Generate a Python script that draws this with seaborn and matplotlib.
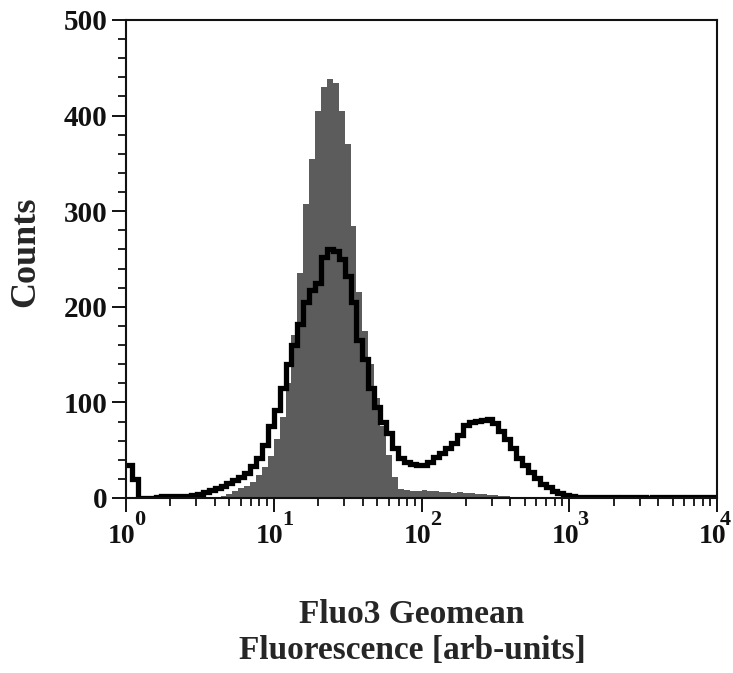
import numpy as np
import pandas as pd
import matplotlib
matplotlib.use("Agg")
import matplotlib.pyplot as plt
from matplotlib.ticker import FixedLocator, NullFormatter
import seaborn as sns

# Histogram channels: 100 log-spaced bins, 0.04 decade wide, from 10^0 to 10^4
bin_lo_log = 0.0
bin_hi_log = 4.0
n_bins = 100
bin_centers = 10 ** (bin_lo_log + (np.arange(n_bins) + 0.5) * (bin_hi_log - bin_lo_log) / n_bins)

# Unstained control (grey filled histogram)
control_counts = [
    0, 0, 0, 0, 0, 0, 0, 0, 0, 0,
    0, 0, 0, 0, 0, 1, 2, 4, 7, 10,
    13, 17, 24, 32, 44, 62, 85, 120, 170, 235,
    308, 355, 405, 430, 438, 434, 405, 370, 285, 215,
    175, 140, 105, 75, 45, 22, 9, 8, 7, 7,
    8, 7, 7, 6, 6, 5, 6, 5, 5, 4,
    4, 3, 3, 2, 2, 1, 1, 1, 1, 1,
    1, 0, 0, 0, 0, 0, 0, 0, 0, 0,
    0, 0, 0, 0, 0, 0, 0, 0, 0, 0,
    0, 0, 0, 0, 0, 0, 0, 0, 0, 0,
]

# Fluo3-loaded cells (black outline histogram)
fluo3_counts = [
    35, 20, 0, 0, 0, 1, 2, 2, 2, 2,
    2, 3, 4, 6, 8, 10, 13, 16, 19, 22,
    26, 33, 42, 55, 75, 92, 115, 140, 160, 182,
    205, 218, 225, 252, 260, 258, 250, 232, 205, 165,
    145, 115, 95, 80, 68, 52, 42, 38, 36, 35,
    35, 38, 43, 47, 52, 58, 66, 76, 80, 81,
    82, 83, 78, 70, 62, 52, 42, 34, 27, 21,
    15, 11, 7, 5, 3, 2, 1, 1, 1, 1,
    1, 1, 1, 0, 1, 1, 1, 1, 0, 1,
    1, 1, 1, 1, 0, 1, 1, 1, 1, 1,
]

decade_ticks = [1, 10, 100, 1000, 10000]
decade_exponents = ["0", "1", "2", "3", "4"]
count_ticks = [0, 100, 200, 300, 400, 500]

df = pd.DataFrame({
    "fluorescence": bin_centers,
    "control": control_counts,
    "fluo3": fluo3_counts,
})

sns.set_style("ticks")
plt.rcParams["font.family"] = ["Liberation Serif", "DejaVu Serif"]
plt.rcParams["font.weight"] = "bold"
plt.rcParams["axes.labelweight"] = "bold"

fig = plt.figure(figsize=(7.33, 6.73), dpi=100)
ax = fig.add_axes([126 / 733, 1 - 498 / 673, (717 - 126) / 733, (498 - 20) / 673])

sns.histplot(data=df, x="fluorescence", weights="control", bins=n_bins,
             binrange=(bin_lo_log, bin_hi_log), log_scale=True, element="step",
             fill=True, color="#5c5c5c", alpha=1.0, linewidth=0, ax=ax)
sns.histplot(data=df, x="fluorescence", weights="fluo3", bins=n_bins,
             binrange=(bin_lo_log, bin_hi_log), log_scale=True, element="step",
             fill=False, color="black", linewidth=3.8,
             solid_joinstyle="miter", solid_capstyle="butt", ax=ax)

ax.set_xlim(1, 10000)
ax.set_ylim(0, 500)

# Spines: full box
for side in ["left", "right", "top", "bottom"]:
    ax.spines[side].set_visible(True)
    ax.spines[side].set_linewidth(1.5)
    ax.spines[side].set_color("#111111")

# y axis ticks
ax.yaxis.set_major_locator(FixedLocator(count_ticks))
ax.yaxis.set_minor_locator(FixedLocator([v for v in range(0, 501, 20) if v % 100]))
ax.tick_params(axis="y", which="major", direction="out", length=10, width=1.4,
               labelsize=21, pad=3.5, colors="#111111")
ax.tick_params(axis="y", which="minor", direction="out", length=5.5, width=1.3,
               colors="#111111")
for lbl in ax.get_yticklabels():
    lbl.set_fontweight("bold")

# x axis ticks: decades with minor 2..9 ticks, labels drawn as 10 + raised exponent
ax.xaxis.set_major_locator(FixedLocator(decade_ticks))
minor = [m * d for d in decade_ticks[:-1] for m in range(2, 10)]
ax.xaxis.set_minor_locator(FixedLocator(minor))
ax.xaxis.set_major_formatter(NullFormatter())
ax.xaxis.set_minor_formatter(NullFormatter())
ax.tick_params(axis="x", which="major", direction="out", length=10, width=1.4,
               colors="#111111")
ax.tick_params(axis="x", which="minor", direction="out", length=5.5, width=1.3,
               colors="#111111")

for i, (tick, exp) in enumerate(zip(decade_ticks, decade_exponents)):
    ax.annotate("10", xy=(tick, 0), xycoords=("data", "axes fraction"),
                xytext=(-2.9, -28), textcoords="offset points",
                ha="center", va="center", fontsize=20, fontweight="bold",
                color="#111111", annotation_clip=False)
    exp_dx = 10 if i < len(decade_ticks) - 1 else 6
    ax.annotate(exp, xy=(tick, 0), xycoords=("data", "axes fraction"),
                xytext=(exp_dx, -15.8), textcoords="offset points",
                ha="center", va="center", fontsize=16, fontweight="bold",
                color="#111111", annotation_clip=False)

ax.set_ylabel("Counts", fontsize=26, fontweight="bold", va="center")
ax.yaxis.set_label_coords(-0.169, 0.515)
ax.set_xlabel("Fluo3 Geomean\nFluorescence [arb-units]", fontsize=24,
              fontweight="bold", va="center", linespacing=1.2)
ax.xaxis.set_label_coords(0.484, -0.282)

fig.savefig("out.png", dpi=100, facecolor="white")
